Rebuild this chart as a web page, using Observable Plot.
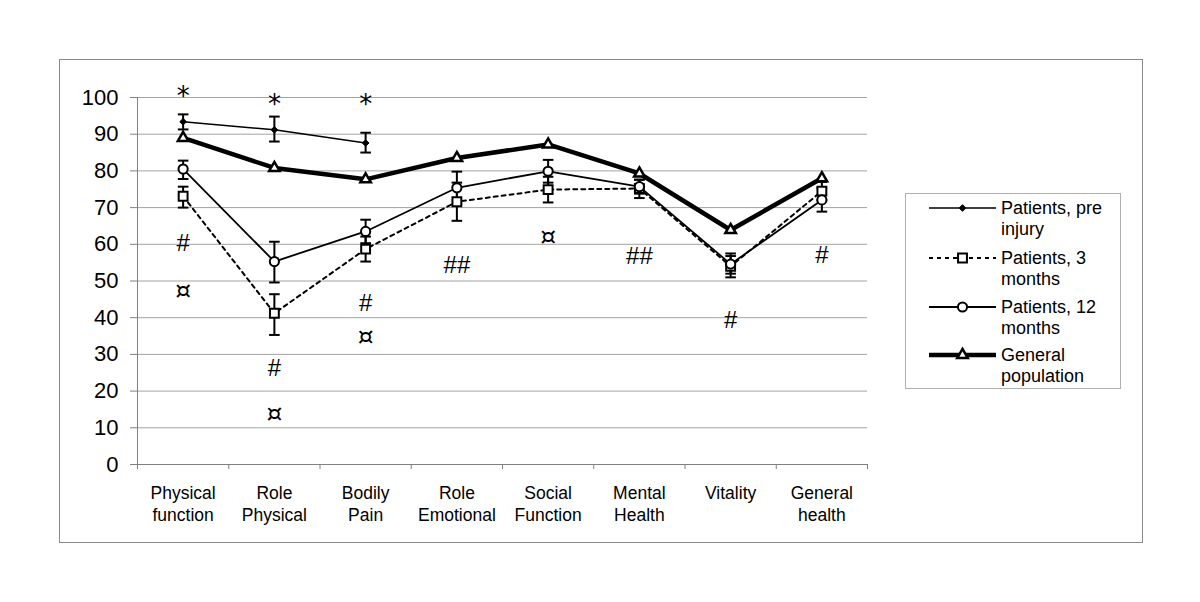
<!DOCTYPE html>
<html><head><meta charset="utf-8">
<script src="https://cdn.jsdelivr.net/npm/d3@7"></script>
<script src="https://cdn.jsdelivr.net/npm/@observablehq/plot@0.6"></script>
<style>
body{margin:0;background:#fff;font-family:"Liberation Sans",Arial,sans-serif;}
#wrap{position:relative;width:1200px;height:602px;overflow:hidden;background:#fff}
#frame{position:absolute;left:59px;top:59px;width:1084px;height:484px;box-sizing:border-box;border:1px solid #8a8a8a}
#chart{position:absolute;left:0;top:0}
#chart svg g[aria-label="y-axis tick"], #chart svg g[aria-label="x-axis tick"]{stroke:#808080}
#legend{position:absolute;left:905px;top:193px;width:216px;height:196px;box-sizing:border-box;border:1px solid #b0b0b0;background:#fff}
#legend svg{position:absolute;left:-1px;top:-1px}
.lt{position:absolute;left:95px;font-size:18px;line-height:21px;color:#000;white-space:nowrap}
</style></head>
<body>
<div id="wrap">
  <div id="frame"></div>
  <div id="chart"></div>
  <div id="legend"></div>
</div>
<script>
// ---- data ----
const categories = ["Physical function","Role Physical","Bodily Pain","Role Emotional","Social Function","Mental Health","Vitality","General health"];
const categoryLabels = ["Physical\nfunction","Role\nPhysical","Bodily\nPain","Role\nEmotional","Social\nFunction","Mental\nHealth","Vitality","General\nhealth"];
const yTicks = [0,10,20,30,40,50,60,70,80,90,100];

const preInjury      = [93.4, 91.2, 87.6, null, null, null, null, null];
const preInjuryLow   = [91.3, 88.0, 85.0, null, null, null, null, null];
const preInjuryHigh  = [95.4, 94.8, 90.4, null, null, null, null, null];

const months3        = [73.1, 41.2, 58.7, 71.6, 74.9, 75.2, 54.0, 74.5];
const months3Low     = [70.0, 35.3, 55.3, 66.4, 71.4, 72.6, 51.0, 72.0];
const months3High    = [75.7, 46.4, 62.1, 76.8, 78.4, 77.6, 56.8, 77.0];

const months12       = [80.5, 55.3, 63.5, 75.4, 79.9, 75.7, 54.6, 72.1];
const months12Low    = [77.8, 49.6, 60.3, 71.0, 76.8, 73.8, 52.0, 68.9];
const months12High   = [82.8, 60.7, 66.7, 79.8, 83.0, 77.6, 57.5, 75.3];

const generalPopulation = [89.0, 80.8, 77.7, 83.5, 87.2, 79.3, 63.9, 78.0];

const annotationText     = ["*","*","*","#","¤","#","¤","#","¤","##","¤","##","#","#"];
const annotationCategory = ["Physical function","Role Physical","Bodily Pain",
  "Physical function","Physical function","Role Physical","Role Physical",
  "Bodily Pain","Bodily Pain","Role Emotional","Social Function","Mental Health","Vitality","General health"];
const annotationValue    = [100.2, 98.0, 98.0, 60.2, 47.4, 26.2, 13.8, 43.9, 34.8, 54.2, 62.0, 56.7, 39.4, 56.9];

const legendNames = ["Patients, pre\ninjury","Patients, 3\nmonths","Patients, 12\nmonths","General\npopulation"];

// ---- build rows ----
const idx = c => categories.indexOf(c);
const rows = (vals, lo, hi) => categories.map((c, i) => ({i, c, v: vals[i], lo: lo ? lo[i] : null, hi: hi ? hi[i] : null}))
  .filter(d => d.v != null);
const pre = rows(preInjury, preInjuryLow, preInjuryHigh);
const m3 = rows(months3, months3Low, months3High);
const m12 = rows(months12, months12Low, months12High);
const gen = rows(generalPopulation);
const errs = [...m3, ...m12, ...pre];
const notes = annotationText.map((t, k) => ({t, i: idx(annotationCategory[k]), v: annotationValue[k]}));

const n = categories.length;
const xDomain = [-0.5, n - 0.5];
const boundaries = d3.range(n + 1).map(k => k - 0.5);
const centers = d3.range(n);

const cap = {draw(ctx) { ctx.moveTo(-5.3, 0); ctx.lineTo(5.3, 0); }};
const dejavu = "'DejaVu Sans', sans-serif";

const chart = Plot.plot({
  width: 1200, height: 602,
  marginLeft: 137, marginRight: 333, marginTop: 97, marginBottom: 138,
  style: {fontFamily: "'Liberation Sans', Arial, sans-serif", fontSize: "22px", color: "#000", background: "transparent"},
  x: {domain: xDomain},
  y: {domain: [0, 100]},
  marks: [
    Plot.ruleY(yTicks.filter(t => t > 0), {stroke: "#a3a3a3", strokeWidth: 1}),
    Plot.ruleY([0], {stroke: "#808080"}),
    Plot.ruleX([xDomain[0]], {stroke: "#808080"}),
    Plot.axisY(yTicks, {tickSize: 7, tickPadding: 12, fontSize: 22, label: null}),
    Plot.axisX(boundaries, {tickSize: 5, tickFormat: () => "", label: null}),
    Plot.axisX(centers, {tickSize: 0, tickPadding: 19, tickFormat: i => categoryLabels[i], fontSize: 17.5, lineHeight: 1.24, label: null}),
    // lines
    Plot.line(m3, {x: "i", y: "v", stroke: "#000", strokeWidth: 2, strokeDasharray: "4,4"}),
    Plot.line(m12, {x: "i", y: "v", stroke: "#000", strokeWidth: 1.8}),
    Plot.line(pre, {x: "i", y: "v", stroke: "#000", strokeWidth: 1.5}),
    Plot.line(gen, {x: "i", y: "v", stroke: "#000", strokeWidth: 4.5}),
    // error bars
    Plot.ruleX(errs, {x: "i", y1: "lo", y2: "hi", stroke: "#000", strokeWidth: 2}),
    Plot.dot(errs, {x: "i", y: "lo", symbol: cap, fill: "none", stroke: "#000", strokeWidth: 2}),
    Plot.dot(errs, {x: "i", y: "hi", symbol: cap, fill: "none", stroke: "#000", strokeWidth: 2}),
    // markers
    Plot.dot(m3, {x: "i", y: "v", symbol: "square", r: 5, fill: "#fff", stroke: "#000", strokeWidth: 2}),
    Plot.dot(m12, {x: "i", y: "v", symbol: "circle", r: 4.6, fill: "#fff", stroke: "#000", strokeWidth: 2}),
    Plot.dot(pre, {x: "i", y: "v", symbol: d3.symbolDiamond2, r: 3, fill: "#000", stroke: "#000", strokeWidth: 1}),
    Plot.dot(gen, {x: "i", y: "v", symbol: "triangle", r: 3.9, fill: "#fff", stroke: "#000", strokeWidth: 2.5}),
    // annotations
    Plot.text(notes.filter(d => d.t === "*"), {x: "i", y: "v", text: "t", fontSize: 26, fontFamily: dejavu, fill: "#000"}),
    Plot.text(notes.filter(d => d.t === "¤"), {x: "i", y: "v", text: "t", fontSize: 25, fontFamily: dejavu, fill: "#000"}),
    Plot.text(notes.filter(d => d.t.startsWith("#")), {x: "i", y: "v", text: "t", fontSize: 24, fill: "#000"})
  ]
});
document.getElementById("chart").appendChild(chart);

// ---- legend ----
const legend = d3.select("#legend");
const ls = legend.append("svg").attr("width", 218).attr("height", 198);
const ly = [15, 65, 114, 162];
const styles = [
  {dash: null, w: 1.5, sym: d3.symbolDiamond2, size: 28, fill: "#000", sw: 1},
  {dash: "4,4", w: 2, sym: d3.symbolSquare, size: 79, fill: "#fff", sw: 2},
  {dash: null, w: 1.8, sym: d3.symbolCircle, size: 66, fill: "#fff", sw: 2},
  {dash: null, w: 4.5, sym: d3.symbolTriangle, size: 48, fill: "#fff", sw: 2.5}
];
styles.forEach((s, k) => {
  const y = ly[k];
  ls.append("line").attr("x1", 24).attr("x2", 91).attr("y1", y).attr("y2", y)
    .attr("stroke", "#000").attr("stroke-width", s.w).attr("stroke-dasharray", s.dash);
  ls.append("path").attr("d", d3.symbol(s.sym, s.size)()).attr("transform", `translate(57.5,${y})`)
    .attr("fill", s.fill).attr("stroke", "#000").attr("stroke-width", s.sw);
  const lines = legendNames[k].split("\n");
  legend.append("div").attr("class", "lt").style("top", (y - 11.5) + "px").html(lines.join("<br>"));
});
</script>
</body></html>
